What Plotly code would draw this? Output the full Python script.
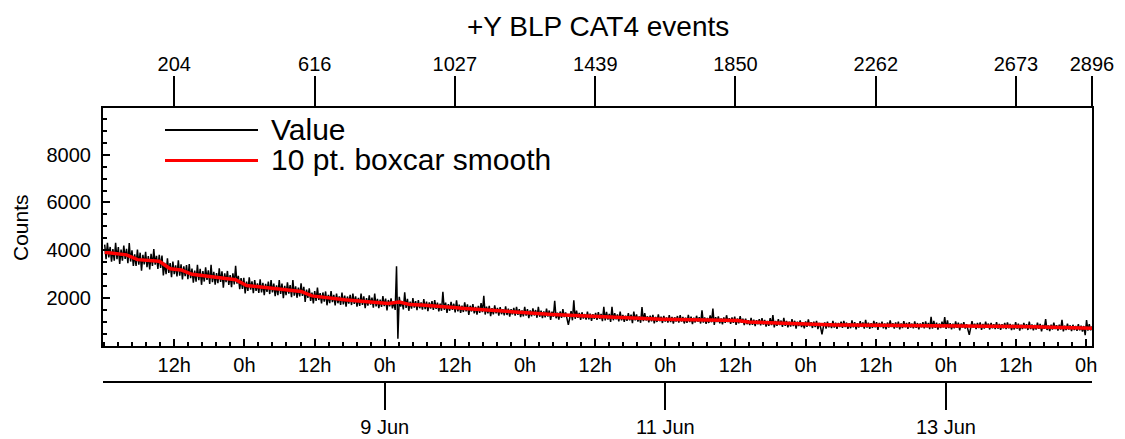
import plotly.graph_objects as go

# ---- data ----
value_index = list(range(0, 2897, 4))
values = [
    4240, 3632, 4315, 3707, 4140, 3522, 4055, 3567, 4310, 3632, 4135, 3427, 4030, 3572, 4195, 3637, 4060, 3462, 4305, 3530,
    4000, 3350, 3830, 3350, 4035, 3402, 3900, 3147, 3815, 3412, 3940, 3297, 3755, 3202, 3850, 3345, 4050, 3402, 3765, 3225,
    3815, 3260, 3780, 2950, 3480, 3000, 3665, 3057, 3470, 2882, 3525, 3000, 3375, 2910, 3585, 2937, 3410, 2785, 3330, 2915,
    3380, 2790, 3420, 2832, 3235, 2648, 3152, 2690, 3398, 2752, 3230, 2558, 3132, 2695, 3288, 2762, 3160, 2593, 3397, 2665,
    3103, 2567, 3045, 2623, 3247, 2675, 3118, 2437, 3035, 2668, 3137, 2555, 2963, 2462, 3040, 2577, 3350, 2610, 2930, 2380,
    2840, 2385, 2850, 2197, 2690, 2303, 2872, 2355, 2707, 2205, 2753, 2301, 2619, 2222, 2790, 2238, 2641, 2124, 2602, 2265,
    2688, 2172, 2756, 2240, 2610, 2084, 2538, 2123, 2757, 2181, 2605, 2004, 2518, 2128, 2662, 2186, 2545, 2040, 2754, 2103,
    2492, 2016, 2440, 2070, 2625, 2095, 2470, 1845, 2355, 2010, 2410, 1882, 2230, 1781, 2293, 1885, 2447, 1923, 2215, 1781,
    2238, 1854, 2280, 1702, 2140, 1791, 2293, 1834, 2140, 1701, 2187, 1788, 2074, 1720, 2231, 1742, 2103, 1644, 2070, 1771,
    2137, 1713, 2189, 1765, 2071, 1642, 2013, 1674, 2195, 1721, 2077, 1583, 2004, 1685, 2120, 1728, 2022, 1605, 2194, 1652,
    1971, 1585, 1938, 1633, 2082, 1666, 1985, 1489, 1922, 1655, 1994, 1572, 1870, 1508, 3330, 300, 2060, 1643, 1880, 1532,
    2240, 1593, 1971, 1473, 1856, 1558, 2001, 1608, 1876, 1498, 1916, 1578, 1821, 1518, 1961, 1544, 1852, 1460, 1825, 1566,
    1876, 1511, 1921, 1557, 1817, 1447, 1767, 1472, 2268, 1513, 1813, 1388, 1749, 1474, 1849, 1514, 1765, 1405, 1910, 1450,
    1730, 1381, 1691, 1421, 1821, 1451, 1737, 1297, 1682, 1443, 1748, 1368, 1633, 1308, 1679, 1384, 1794, 1415, 2095, 1315,
    1643, 1360, 1681, 1253, 1579, 1326, 1702, 1364, 1596, 1267, 1629, 1330, 1542, 1283, 1660, 1296, 1563, 1225, 1536, 1318,
    1594, 1266, 1632, 1304, 1540, 1207, 1493, 1235, 1636, 1268, 1540, 1161, 1488, 1239, 1576, 1277, 1504, 1181, 1637, 1224,
    1475, 1167, 1443, 1200, 1561, 1228, 1484, 1091, 1437, 1224, 1890, 1162, 1398, 1105, 1441, 1179, 1547, 1209, 1402, 1123,
    884, 1171, 1458, 1075, 1912, 1139, 1476, 1174, 1381, 1088, 1410, 1147, 1334, 1101, 1438, 1115, 1352, 1049, 1331, 1134,
    1382, 1089, 1417, 1130, 1338, 1040, 1643, 1066, 1424, 1101, 1344, 1007, 1640, 1077, 1375, 1113, 1316, 1028, 1436, 1069,
    1297, 1014, 1267, 1050, 1373, 1075, 1308, 956, 1434, 1076, 1324, 1022, 1235, 972, 1630, 1038, 1371, 1068, 1241, 989,
    1267, 1034, 1297, 945, 1213, 1005, 1318, 1036, 1229, 963, 1262, 1021, 1195, 979, 1293, 997, 1216, 940, 1199, 1023,
    1252, 981, 1290, 1019, 1213, 942, 1181, 965, 1299, 998, 1227, 911, 1185, 984, 1263, 1017, 1206, 940, 1489, 978,
    1197, 926, 1170, 964, 1278, 992, 1561, 880, 1204, 998, 1237, 946, 1150, 903, 1192, 966, 1285, 999, 1163, 922,
    1191, 970, 1224, 888, 1147, 946, 1245, 968, 1140, 872, 1145, 913, 1080, 873, 1171, 888, 1096, 829, 1081, 904,
    1126, 859, 1161, 894, 1087, 814, 1052, 840, 1167, 870, 1292, 780, 1048, 845, 1118, 876, 1063, 801, 1174, 841,
    1044, 782, 1019, 812, 1119, 837, 1054, 722, 1015, 837, 1070, 788, 985, 743, 1025, 803, 1111, 828, 991, 754,
    1016, 794, 1047, 710, 967, 766, 490, 800, 985, 730, 1014, 784, 954, 749, 1048, 768, 978, 713, 967, 792,
    1016, 756, 1051, 795, 980, 720, 950, 744, 1069, 779, 998, 698, 958, 767, 1037, 797, 982, 731, 1096, 771,
    975, 720, 950, 754, 1054, 784, 999, 673, 963, 793, 1018, 742, 942, 702, 981, 766, 1071, 796, 955, 725,
    985, 769, 1019, 694, 944, 753, 1043, 788, 967, 717, 997, 772, 936, 736, 1031, 756, 960, 700, 945, 780,
    994, 739, 1028, 777, 962, 707, 1216, 726, 1046, 765, 975, 685, 939, 749, 1013, 778, 1212, 712, 1071, 751,
    951, 700, 930, 739, 1029, 763, 973, 657, 937, 771, 996, 726, 915, 685, 465, 749, 1044, 773, 933, 707,
    962, 751, 991, 676, 920, 730, 1014, 763, 937, 691, 964, 743, 907, 711, 995, 723, 922, 671, 910, 743,
    960, 709, 988, 741, 920, 669, 893, 692, 1001, 724, 933, 642, 891, 710, 964, 737, 911, 670, 1019, 708,
    902, 655, 879, 688, 972, 716, 920, 608, 882, 716, 1120, 669, 858, 626, 895, 689, 978, 711, 865, 644,
    892, 685, 1094, 612, 851, 664, 938, 691, 864, 623, 886, 670, 833, 637, 915, 653, 847, 600, 834, 457,
    1086, 640, 910, 655, 820,
]

smooth_index = [
    0, 32, 64, 96, 128, 160, 192, 224, 256, 288, 320, 352, 384, 416, 448,
    480, 512, 544, 576, 608, 640, 672, 704, 736, 768, 800, 832, 864, 896,
    928, 960, 992, 1024, 1056, 1088, 1120, 1152, 1184, 1216, 1248, 1280,
    1312, 1344, 1376, 1408, 1440, 1472, 1504, 1536, 1568, 1600, 1632, 1664,
    1696, 1728, 1760, 1792, 1824, 1856, 1888, 1920, 1952, 1984, 2016, 2048,
    2080, 2112, 2144, 2176, 2208, 2240, 2272, 2304, 2336, 2368, 2400, 2432,
    2464, 2496, 2528, 2560, 2592, 2624, 2656, 2688, 2720, 2752, 2784, 2816,
    2848, 2880, 2896,
]
smooth_values = [
    3920, 3880, 3810, 3610, 3590, 3540, 3230, 3180, 2995, 2940, 2890, 2835,
    2770, 2530, 2475, 2420, 2370, 2325, 2280, 2095, 2030, 1960, 1930, 1895,
    1865, 1815, 1780, 1840, 1730, 1710, 1685, 1650, 1610, 1570, 1535, 1490,
    1460, 1433, 1405, 1378, 1350, 1322, 1298, 1272, 1250, 1227, 1210, 1190,
    1172, 1155, 1137, 1119, 1111, 1103, 1095, 1087, 1079, 1070, 1062, 1005,
    986, 967, 948, 929, 910, 891, 880, 878, 875, 873, 870, 868, 866, 864,
    862, 859, 856, 852, 849, 846, 842, 839, 830, 820, 811, 802, 792, 783,
    771, 758, 746, 740,
]

hour_tick_index = [204, 410, 616, 821.5, 1027, 1233, 1439, 1644.5, 1850,
                   2056, 2262, 2467.5, 2673, 2879]
hour_tick_labels = ["12h", "0h", "12h", "0h", "12h", "0h", "12h", "0h",
                    "12h", "0h", "12h", "0h", "12h", "0h"]
top_tick_index = [204, 616, 1027, 1439, 1850, 2262, 2673, 2896]
top_tick_labels = ["204", "616", "1027", "1439", "1850", "2262", "2673", "2896"]
date_tick_index = [821.5, 1644.5, 2467.5]
date_tick_labels = ["9 Jun", "11 Jun", "13 Jun"]
y_tick_values = [2000, 4000, 6000, 8000]

title_text = "+Y BLP CAT4 events"
series_names = ["Value", "10 pt. boxcar smooth"]
y_title = "Counts"

FONT = "Liberation Sans, Arial, Helvetica, sans-serif"
X_RANGE = [-5, 2896]

n = min(len(value_index), len(values))
fig = go.Figure()
fig.add_trace(go.Scatter(x=value_index[:n], y=values[:n], mode="lines",
                         line=dict(color="black", width=1.5),
                         name=series_names[0], showlegend=False))
fig.add_trace(go.Scatter(x=smooth_index, y=smooth_values, mode="lines",
                         line=dict(color="#ff0000", width=3.5),
                         name=series_names[1], showlegend=False))

# The page puts the figure 8 px from the window's top-left corner,
# so the geometry below is expressed in window pixels minus that offset.
OFF = 8
W, H = 1125 - OFF, 439 - OFF
ML, MT = 103 - OFF, 108 - OFF
MR = W - (1092 - OFF)
MB = H - (389 - OFF)
plot_h = H - MT - MB
main_bottom_px = 346
date_axis_px = 382


def py(p):
    """window pixel row -> paper fraction"""
    return (H - MB - (p - OFF)) / plot_h


def px(p):
    """window pixel column -> paper fraction"""
    return ((p - OFF) - ML) / (W - ML - MR)


axis_common = dict(showgrid=False, zeroline=False, linecolor="black",
                   linewidth=2, tickcolor="black", tickwidth=2,
                   automargin=False,
                   tickfont=dict(family=FONT, size=20, color="black"))

fig.update_layout(
    width=W, height=H,
    margin=dict(l=ML, r=MR, t=MT, b=MB, autoexpand=False),
    paper_bgcolor="white", plot_bgcolor="white",
    font=dict(family=FONT, color="black"),
    showlegend=False,
    xaxis=dict(domain=[0, 1], range=X_RANGE, anchor="y", side="bottom",
               tickmode="array", tickvals=hour_tick_index,
               ticktext=hour_tick_labels, ticks="inside", ticklen=7,
               showline=True, ticklabelstandoff=0,
               minor=dict(tickmode="linear", tick0=204, dtick=41.15,
                          ticks="inside", ticklen=4, tickwidth=2,
                          tickcolor="black", showgrid=False),
               **axis_common),
    xaxis2=dict(overlaying="x", anchor="y", side="top", range=X_RANGE,
                tickmode="array", tickvals=top_tick_index,
                ticktext=top_tick_labels, ticks="outside", ticklen=30,
                showline=True, ticklabelstandoff=-3, **axis_common),
    xaxis3=dict(overlaying="x", anchor="free", position=py(date_axis_px),
                side="bottom", range=X_RANGE, tickmode="array",
                tickvals=date_tick_index, ticktext=date_tick_labels,
                ticks="outside", ticklen=27, showline=True,
                ticklabelstandoff=0, **axis_common),
    yaxis=dict(domain=[py(main_bottom_px), 1], range=[0, 9950],
               tickmode="array", tickvals=y_tick_values, ticks="inside",
               ticklen=7, showline=True, mirror=True, ticklabelstandoff=6,
               minor=dict(tickmode="linear", tick0=0, dtick=500,
                          ticks="inside", ticklen=4, tickwidth=2,
                          tickcolor="black", showgrid=False),
               **axis_common),
)

# dummy invisible traces so the extra axes are drawn
fig.add_trace(go.Scatter(x=[X_RANGE[0]], y=[0], xaxis="x2", yaxis="y",
                         mode="markers", marker=dict(opacity=0),
                         hoverinfo="skip", showlegend=False))
fig.add_trace(go.Scatter(x=[X_RANGE[0]], y=[0], xaxis="x3", yaxis="y",
                         mode="markers", marker=dict(opacity=0),
                         hoverinfo="skip", showlegend=False))

# manual legend
legend_colors = ["black", "#ff0000"]
legend_widths = [2, 3]
legend_y_px = [130, 160.5]
for name, col, lw, ypx in zip(series_names, legend_colors, legend_widths,
                               legend_y_px):
    fig.add_shape(type="line", xref="paper", yref="paper",
                  x0=px(165), x1=px(258), y0=py(ypx), y1=py(ypx),
                  line=dict(color=col, width=lw))
    fig.add_annotation(text=name, xref="paper", yref="paper",
                       x=px(269), y=py(ypx - 1), xanchor="left",
                       yanchor="middle", showarrow=False,
                       font=dict(family=FONT, size=30, color="black"))

# axis title
fig.add_annotation(text=y_title, xref="paper", yref="paper",
                   x=px(20), y=py(228), xanchor="center", yanchor="middle",
                   textangle=-90, showarrow=False,
                   font=dict(family=FONT, size=21, color="black"))

fig.add_annotation(text=title_text, xref="paper", yref="paper",
                   x=0.5, y=py(26), xanchor="center", yanchor="middle",
                   showarrow=False,
                   font=dict(family=FONT, size=28, color="black"))

fig.write_html("out.html")
